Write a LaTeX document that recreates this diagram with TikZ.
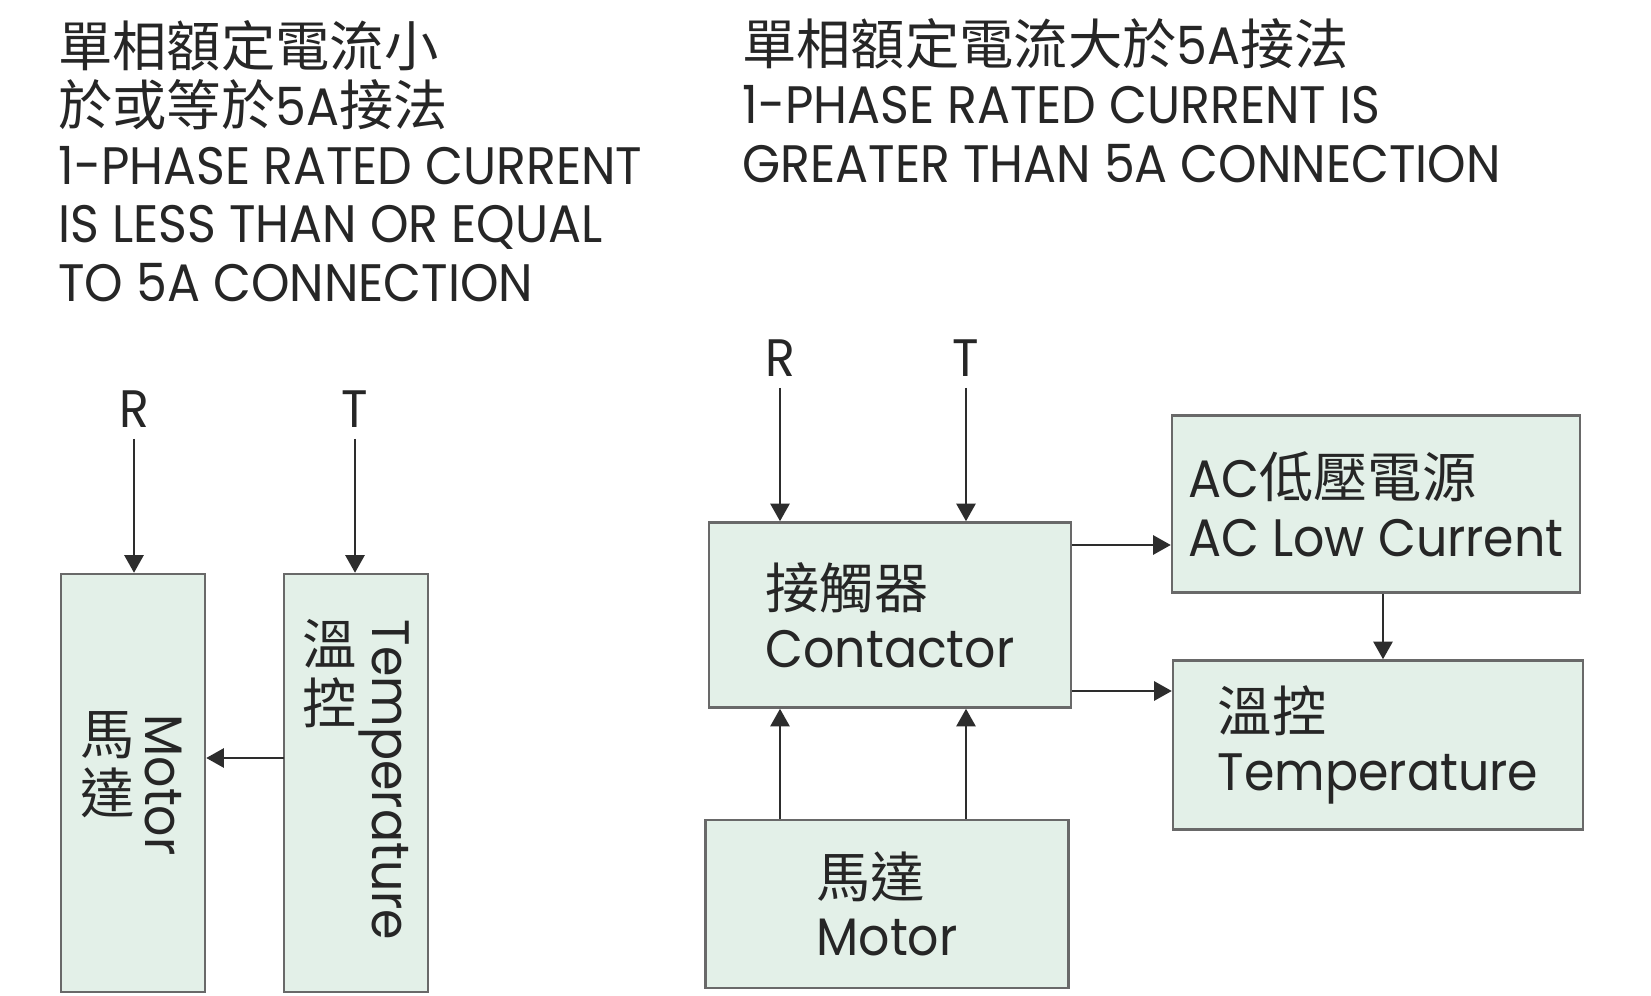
\documentclass[tikz,border=0pt]{standalone}
\usepackage{fontspec}
\setmainfont{Poppins}[FakeStretch=0.93]
\newfontfamily\cjk{Noto Sans CJK TC}[Scale=1.03]
\usetikzlibrary{arrows.meta,calc}
\definecolor{boxfill}{RGB}{227,240,232}
\definecolor{boxline}{RGB}{105,105,105}
\definecolor{inkline}{RGB}{45,45,45}
\definecolor{inktext}{RGB}{38,38,38}
\newcommand{\zh}[1]{{\cjk #1}}

\begin{document}
\begin{tikzpicture}[x=0.02cm,y=-0.02cm,font=\fontsize{30}{33.5}\selectfont,text=inktext,
   blk/.style={draw=boxline,fill=boxfill,line width=1.5pt,inner sep=0pt,align=left},
   ttl/.style={align=left,anchor=north west,inner sep=0pt},
   ar/.style={-{Triangle[length=10pt,width=11pt]},draw=inkline,line width=0.9pt}]
\path[fill=white,use as bounding box] (0,0) rectangle (1651,996);

% titles
\node[ttl] (ttlleft) at (58,20) {\zh{單相額定電流小}\\\zh{於或等於}5A\zh{接法}\\1-PHASE RATED CURRENT\\IS LESS THAN OR EQUAL\\TO 5A CONNECTION};
\node[ttl] (ttlright) at (742,18) {\zh{單相額定電流大於}5A\zh{接法}\\1-PHASE RATED CURRENT IS\\GREATER THAN 5A CONNECTION};

% left: up to 5A
\node[blk,minimum width=2.88cm,minimum height=8.36cm] (lmot) at (133,783) {};
\node[blk,minimum width=2.88cm,minimum height=8.36cm] (ltmp) at (356,783) {};
\node[inner sep=0pt,align=center] (lmotzh) at (108,765) {\zh{馬}\\\zh{達}};
\node[inner sep=0pt,rotate=-90] (lmoten) at (163,785) {Motor};
\node[inner sep=0pt,align=center] (ltmpzh) at (330,674) {\zh{溫}\\\zh{控}};
\node[inner sep=0pt,rotate=-90] (ltmpen) at (384,780) {Temperature};

\node (lr) at (134,409) {R};
\node (lt) at (355,409) {T};
\draw[ar,shorten <=3pt] (lr.south) -- (lmot.north -| lr);
\draw[ar,shorten <=3pt] (lt.south) -- (ltmp.north -| lt);
\coordinate (lk) at (284,758);
\draw[ar] (lk) -- (lk -| lmot.east);

% right: above 5A
\node[blk,minimum width=7.24cm,minimum height=3.7cm] (con) at (890,615) {\zh{接觸器}\\Contactor};
\node[blk,minimum width=8.16cm,minimum height=3.54cm] (ac) at (1376,504) {AC\zh{低壓電源}\\AC Low Current};
\node[blk,minimum width=8.2cm,minimum height=3.38cm] (tmp) at (1378,745) {\zh{溫控}\\Temperature};
\node[blk,minimum width=7.26cm,minimum height=3.36cm] (mot) at (887,904) {\zh{馬達}\\Motor};

\node (rr) at (780,358) {R};
\node (rt) at (966,358) {T};
\draw[ar,shorten <=3pt] (rr.south) -- (con.north -| rr);
\draw[ar,shorten <=3pt] (rt.south) -- (con.north -| rt);
\draw[ar] (mot.north -| rr) -- (con.south -| rr);
\draw[ar] (mot.north -| rt) -- (con.south -| rt);

\coordinate (ca) at ($(con.east)+(0,-70)$);
\coordinate (cb) at ($(con.east)+(0,76)$);
\draw[ar] (ca) -- (ca -| ac.west);
\draw[ar] (cb) -- (cb -| tmp.west);
\coordinate (acs) at ($(ac.south)+(7,0)$);
\draw[ar] (acs) -- (acs |- tmp.north);
\end{tikzpicture}
\end{document}
